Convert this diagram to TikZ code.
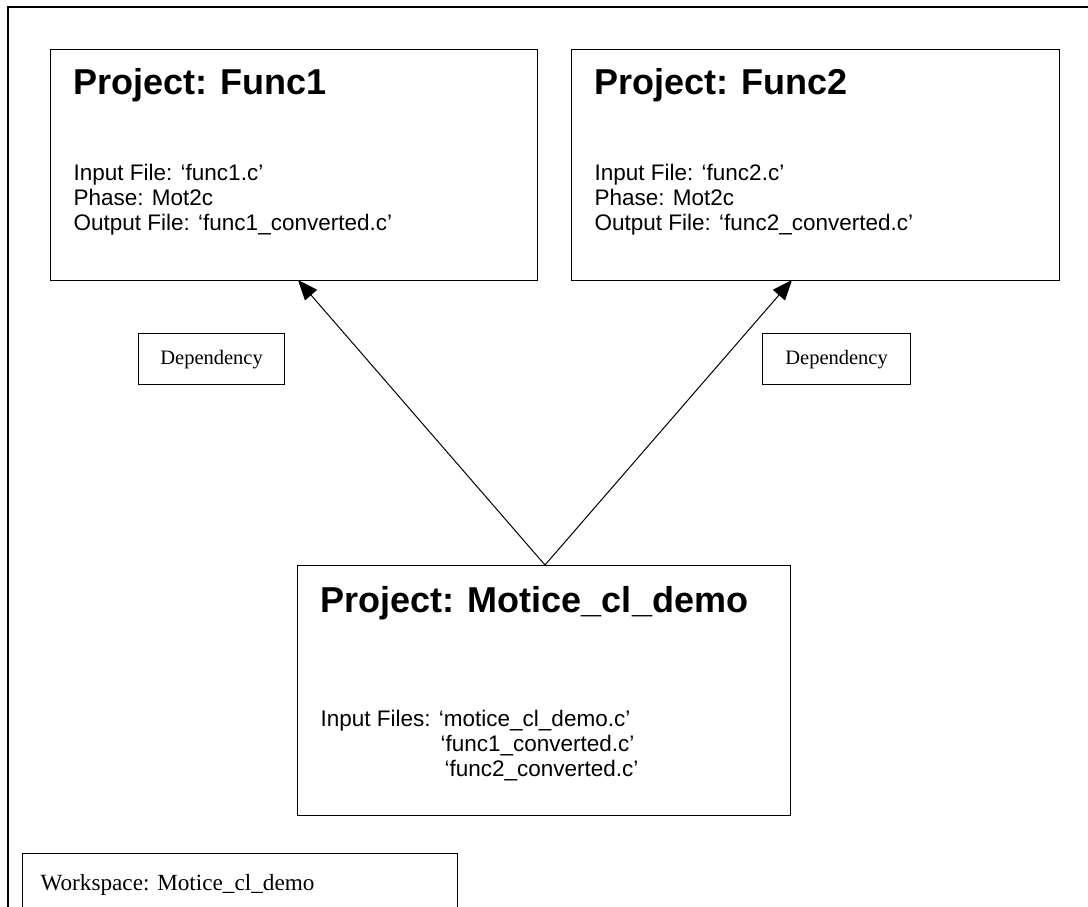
\documentclass[tikz,border=0pt]{standalone}
\usepackage{fontspec}
\setmainfont{Liberation Serif}
\newfontfamily\arialfont{Liberation Sans}
\usetikzlibrary{arrows.meta, positioning}

\begin{document}
\begin{tikzpicture}[x=1pt, y=-1pt, line width=1.2pt,
  box/.style = {draw, rectangle, inner sep=0pt, anchor=north west},
  title/.style = {font=\arialfont\bfseries\fontsize{36}{40}\selectfont, anchor=base west, inner sep=0pt},
  info/.style = {font=\arialfont\fontsize{22.5}{25}\selectfont, anchor=base west, inner sep=0pt},
  note/.style = {font=\fontsize{20.5}{24}\selectfont, inner sep=0pt},
  dep/.style = {-{Triangle[length=20pt, width=16pt]}, line width=1pt}]
\useasboundingbox (0,0) rectangle (1088,907);
\clip (0,0) rectangle (1088,907);

% workspace frame, runs off the page
\draw (8,930) |- (1110,7);

% project boxes
\node[box, minimum width=487pt, minimum height=231pt] (func1) at (50,49) {};
\node[box, minimum width=488pt, minimum height=231pt] (func2) at (571,49) {};
\node[box, minimum width=493pt, minimum height=250pt] (motice) at (297,565) {};

\node[title] (func1title) at (73,95) {Project: Func1};
\node[info] (func1in) at (73,180) {Input File: ‘func1.c’};
\node[info] (func1ph) at (73,205) {Phase: Mot2c};
\node[info] (func1out) at (73,230) {Output File: ‘func1\_converted.c’};

\node[title] (func2title) at (594,95) {Project: Func2};
\node[info] (func2in) at (594,180) {Input File: ‘func2.c’};
\node[info] (func2ph) at (594,205) {Phase: Mot2c};
\node[info] (func2out) at (594,230) {Output File: ‘func2\_converted.c’};

\node[title] (motitle) at (320,612) {Project: Motice\_cl\_demo};
\node[info] (moin1) at (320,726) {Input Files: ‘motice\_cl\_demo.c’};
\node[info] (moin2) at (440,751) {‘func1\_converted.c’};
\node[info] (moin3) at (444,776) {‘func2\_converted.c’};

% dependency labels
\node[box, minimum width=146pt, minimum height=51pt] (depleft) at (138,333) {};
\node[note] at (depleft.center) {Dependency};
\node[box, minimum width=148pt, minimum height=51pt] (depright) at (762,333) {};
\node[note] at (depright.center) {Dependency};

% workspace label
\node[box, minimum width=435pt, minimum height=80pt] (wsbox) at (22,853) {};
\node[note, anchor=base west, font=\fontsize{23.2}{27}\selectfont] (wstext) at (40,890) {Workspace: Motice\_cl\_demo};

% arrows
\coordinate (motop) at (545,565);
\coordinate (tip1) at (298,280);
\coordinate (tip2) at (792,280);
\draw[dep] (motop) -- (tip1);
\draw[dep] (motop) -- (tip2);
\end{tikzpicture}
\end{document}
